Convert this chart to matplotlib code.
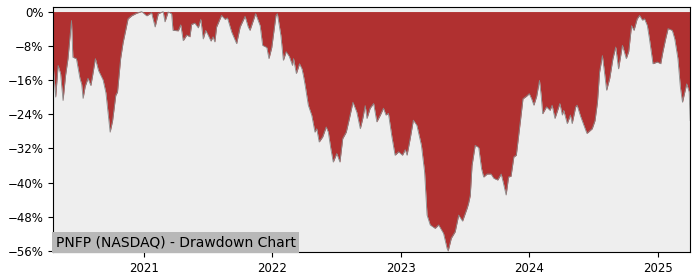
import numpy as np
import pandas as pd
import matplotlib
matplotlib.use("Agg")
import matplotlib.pyplot as plt
import matplotlib.dates as mdates
from matplotlib.ticker import PercentFormatter, MultipleLocator

# drawdown readings (percent below running peak)
dates = [
    "2020-04-17", "2020-04-24", "2020-05-01", "2020-05-08", "2020-05-15", "2020-05-22",
    "2020-05-29", "2020-06-08", "2020-06-12", "2020-06-22", "2020-07-02", "2020-07-07",
    "2020-07-11", "2020-07-17", "2020-07-25", "2020-08-02", "2020-08-07", "2020-08-15",
    "2020-08-24", "2020-09-06", "2020-09-14", "2020-09-26", "2020-10-03", "2020-10-12",
    "2020-10-17", "2020-10-26", "2020-11-02", "2020-11-11", "2020-11-16", "2020-11-26",
    "2020-12-10", "2020-12-25", "2021-01-08", "2021-01-22", "2021-02-01", "2021-02-10",
    "2021-02-24", "2021-03-01", "2021-03-10", "2021-03-20", "2021-03-24", "2021-04-08",
    "2021-04-15", "2021-04-22", "2021-05-02", "2021-05-11", "2021-05-16", "2021-05-25",
    "2021-06-04", "2021-06-11", "2021-06-18", "2021-06-25", "2021-07-02", "2021-07-10",
    "2021-07-16", "2021-07-21", "2021-07-26", "2021-08-09", "2021-08-19", "2021-08-26",
    "2021-09-07", "2021-09-21", "2021-10-01", "2021-10-15", "2021-10-24", "2021-10-29",
    "2021-11-07", "2021-11-14", "2021-11-22", "2021-11-27", "2021-12-04", "2021-12-16",
    "2021-12-22", "2021-12-30", "2022-01-11", "2022-01-15", "2022-01-25", "2022-02-01",
    "2022-02-09", "2022-02-18", "2022-02-27", "2022-03-02", "2022-03-10", "2022-03-19",
    "2022-03-26", "2022-03-30", "2022-04-04", "2022-04-13", "2022-04-23", "2022-05-02",
    "2022-05-07", "2022-05-14", "2022-05-24", "2022-06-03", "2022-06-09", "2022-06-16",
    "2022-06-23", "2022-07-03", "2022-07-12", "2022-07-20", "2022-07-30", "2022-08-08",
    "2022-08-18", "2022-08-29", "2022-09-08", "2022-09-15", "2022-09-22", "2022-09-27",
    "2022-10-06", "2022-10-16", "2022-10-25", "2022-11-04", "2022-11-13", "2022-11-20",
    "2022-11-27", "2022-12-07", "2022-12-16", "2022-12-26", "2023-01-06", "2023-01-14",
    "2023-01-19", "2023-01-28", "2023-02-06", "2023-02-16", "2023-03-01", "2023-03-10",
    "2023-03-17", "2023-03-26", "2023-04-09", "2023-04-19", "2023-05-03", "2023-05-13",
    "2023-05-16", "2023-05-25", "2023-06-05", "2023-06-15", "2023-06-26", "2023-07-09",
    "2023-07-13", "2023-07-18", "2023-07-23", "2023-08-01", "2023-08-11", "2023-08-19",
    "2023-08-25", "2023-09-04", "2023-09-15", "2023-09-23", "2023-10-04", "2023-10-14",
    "2023-10-20", "2023-10-28", "2023-11-04", "2023-11-11", "2023-11-19", "2023-11-26",
    "2023-12-08", "2023-12-15", "2023-12-25", "2024-01-02", "2024-01-09", "2024-01-15",
    "2024-01-23", "2024-01-31", "2024-02-05", "2024-02-09", "2024-02-20", "2024-03-01",
    "2024-03-07", "2024-03-15", "2024-03-29", "2024-04-05", "2024-04-09", "2024-04-19",
    "2024-04-28", "2024-05-03", "2024-05-13", "2024-05-17", "2024-05-27", "2024-06-05",
    "2024-06-14", "2024-06-29", "2024-07-07", "2024-07-14", "2024-07-20", "2024-07-28",
    "2024-08-03", "2024-08-09", "2024-08-18", "2024-08-27", "2024-09-04", "2024-09-12",
    "2024-09-23", "2024-10-04", "2024-10-11", "2024-10-19", "2024-10-26", "2024-11-04",
    "2024-11-11", "2024-11-19", "2024-11-25", "2024-12-03", "2024-12-09", "2024-12-19",
    "2024-12-31", "2025-01-10", "2025-01-16", "2025-01-24", "2025-01-31", "2025-02-12",
    "2025-02-19", "2025-02-28", "2025-03-07", "2025-03-13", "2025-03-19", "2025-03-25",
    "2025-04-01", "2025-04-04",
]
drawdown = [
    -12.6, -20.0, -12.6, -14.5, -20.8, -15.0,
    -11.0, -2.1, -10.7, -11.0, -15.6, -17.0,
    -20.3, -17.5, -15.6, -17.3, -15.0, -11.0,
    -13.8, -16.0, -19.0, -28.2, -25.5, -19.6,
    -18.8, -10.9, -7.2, -3.7, -1.7, -1.0,
    -0.4, 0.0, -1.0, -0.3, -3.6, -0.5,
    0.0, -2.4, -0.1, -0.5, -4.4, -4.5,
    -3.1, -6.8, -5.5, -5.9, -3.0, -2.7,
    -3.8, -1.8, -6.4, -4.4, -5.5, -6.9,
    -5.9, -7.1, -3.6, -0.9, -1.8, -1.5,
    -4.8, -7.5, -3.6, -1.1, -3.6, -4.4,
    -2.2, -0.5, -2.2, -3.3, -7.9, -8.4,
    -11.0, -8.4, -0.9, -0.5, -5.6, -11.4,
    -9.4, -10.5, -12.6, -11.0, -14.5, -12.2,
    -13.4, -14.9, -17.2, -21.9, -24.3, -28.2,
    -27.4, -30.5, -29.3, -27.0, -28.2, -32.0,
    -35.2, -33.2, -35.2, -29.7, -28.2, -25.0,
    -21.2, -23.5, -27.4, -25.0, -22.0, -25.0,
    -22.6, -21.5, -25.8, -24.2, -22.6, -24.2,
    -23.8, -29.3, -33.6, -32.8, -33.6, -32.3,
    -33.6, -29.7, -25.4, -26.6, -31.3, -37.5,
    -47.6, -49.9, -50.7, -49.9, -51.9, -55.4,
    -56.0, -53.0, -51.5, -47.6, -49.0, -46.0,
    -44.9, -43.0, -36.0, -31.3, -31.8, -36.7,
    -38.7, -38.0, -38.0, -39.0, -39.4, -38.0,
    -40.0, -42.9, -38.7, -38.5, -34.0, -33.6,
    -25.4, -20.4, -19.8, -19.2, -20.5, -21.9,
    -19.8, -16.1, -19.8, -23.9, -22.3, -23.1,
    -21.9, -25.0, -21.5, -24.2, -23.1, -26.2,
    -24.2, -26.2, -22.3, -21.9, -24.5, -26.5,
    -28.5, -27.4, -25.5, -21.2, -14.2, -10.3,
    -14.2, -18.4, -15.6, -11.0, -8.3, -13.4,
    -7.9, -11.0, -9.3, -3.3, -4.4, -1.7,
    -0.9, -2.0, -1.7, -3.3, -6.4, -12.2,
    -11.8, -12.2, -9.5, -6.4, -4.0, -4.4,
    -6.4, -11.0, -17.7, -21.2, -19.0, -16.9,
    -18.8, -25.5,
]
title = "PNFP (NASDAQ) - Drawdown Chart"

x = pd.to_datetime(dates)
dd = np.array(drawdown)

fig = plt.figure(figsize=(7, 2.8), dpi=100)
ax = fig.add_axes([0.076, 0.099, 0.910, 0.875])
ax.set_facecolor("#eeeeee")

ax.fill_between(x, dd, 0, color="#b03030", linewidth=0)
ax.plot(x, dd, color="#8a8a8a", linewidth=0.6)

ax.set_xlim(x[0], x[-1])
ax.set_ylim(-56.3, 1.0)
ax.yaxis.set_major_locator(MultipleLocator(8))
ax.yaxis.set_major_formatter(PercentFormatter(decimals=0))
ax.xaxis.set_major_locator(mdates.YearLocator())
ax.xaxis.set_major_formatter(mdates.DateFormatter("%Y"))
ax.tick_params(labelsize=8.5)

ax.text(0.004, 0.012, title, transform=ax.transAxes, fontsize=10,
        ha="left", va="bottom",
        bbox=dict(facecolor="#b8b8b8", edgecolor="none", pad=2.5))

fig.savefig("out.png", dpi=100)
